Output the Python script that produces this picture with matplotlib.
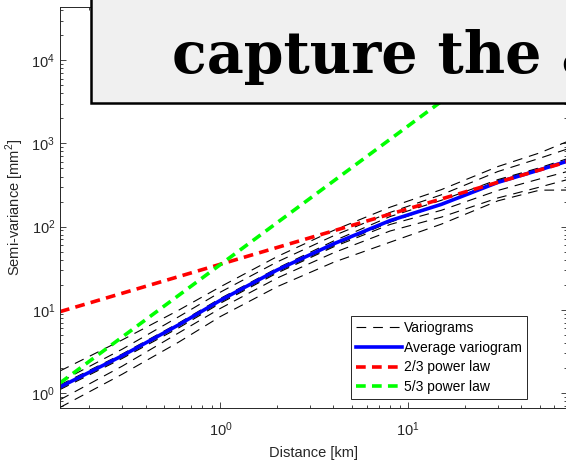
import matplotlib
matplotlib.use('Agg')
import matplotlib.pyplot as plt
from matplotlib.patches import Rectangle
from matplotlib.ticker import LogLocator, NullFormatter

plt.rcParams['font.family'] = ['Liberation Sans', 'DejaVu Sans']
plt.rcParams['mathtext.fontset'] = 'custom'
plt.rcParams['mathtext.rm'] = 'Liberation Sans'
plt.rcParams['lines.scale_dashes'] = False

# distances [km] the variograms are read at
dist = [0.14, 0.3, 0.6, 1, 2, 4, 8, 15, 30, 50, 70]

# single variograms [mm^2]
vario1 = [1.84, 4.34, 9.9, 18.9, 43.5, 89.9, 171, 278, 527, 768, 1049]
vario2 = [1.36, 3.36, 8.25, 16.3, 37.5, 77.5, 148, 241, 459, 662, 854]
vario3 = [1.25, 2.94, 6.93, 13.7, 31.5, 67, 132, 207, 367, 509, 653]
vario4 = [1.2, 2.8, 6.6, 13, 29.4, 60.1, 114, 185, 357, 499, 622]
vario5 = [1.14, 2.69, 6.34, 12.4, 28.5, 58.9, 113, 185, 340, 480, 598]
vario6 = [1.1, 2.6, 6.07, 12, 27.6, 57, 106, 157, 272, 374, 458]
vario7 = [0.83, 2.1, 5.28, 10.4, 24, 48.4, 88.5, 130, 221, 298, 366]
vario8 = [0.67, 1.68, 4.09, 8.3, 18.9, 37.2, 64.9, 107, 204, 274, 275]
variograms = [vario1, vario2, vario3, vario4, vario5, vario6, vario7, vario8]

avg_vario = [1.18, 2.8, 6.6, 13, 30, 62, 118, 185, 340, 480, 610]

# power laws (straight in log-log, end points only)
law_dist = [0.14, 70]
law_23 = [9.5, 600]
law_53 = [1.32, 41600]

fig = plt.figure(figsize=(5.66, 4.61), dpi=100)
W, H = 566.0, 461.0
ax = fig.add_axes([60 / W, (H - 408) / H, 507 / W, 401 / H])

axcol = '#262626'
for i, v in enumerate(variograms):
    ax.plot(dist, v, color='black', lw=0.8, dashes=(7, 5),
            label='Variograms' if i == 0 else None)
ax.plot(dist, avg_vario, color='#0000ff', lw=2.6, label='Average variogram')
ax.plot(law_dist, law_23, color='#ff0000', lw=2.6, dashes=(7, 4.5), label='2/3 power law')
ax.plot(law_dist, law_53, color='#00ff00', lw=2.6, dashes=(7, 4.5), label='5/3 power law')

ax.set_xscale('log')
ax.set_yscale('log')
ax.set_xlim(0.14, 70)
ax.set_ylim(0.66, 43600)

ax.xaxis.set_major_locator(LogLocator(base=10, numticks=10))
ax.yaxis.set_major_locator(LogLocator(base=10, numticks=10))
ax.xaxis.set_minor_locator(LogLocator(base=10, subs=range(2, 10), numticks=20))
ax.yaxis.set_minor_locator(LogLocator(base=10, subs=range(2, 10), numticks=20))
ax.xaxis.set_minor_formatter(NullFormatter())
ax.yaxis.set_minor_formatter(NullFormatter())

ax.tick_params(which='both', direction='in', top=True, right=True, colors=axcol,
               labelsize=10.5, width=0.6)
ax.tick_params(which='major', length=4.5)
ax.tick_params(which='minor', length=2.5)
ax.tick_params(axis='x', which='major', pad=9)
for s in ax.spines.values():
    s.set_color(axcol)
    s.set_linewidth(0.7)

ax.set_xlabel('Distance [km]', fontsize=10.5, color=axcol, labelpad=5)
ax.set_ylabel(r'Semi-variance [mm$^{\mathdefault{2}}$]', fontsize=10.5, color=axcol, labelpad=4)

leg = ax.legend(loc='lower left', bbox_to_anchor=(0.574, 0.022), borderaxespad=0,
                fontsize=10, handlelength=3.3, handletextpad=0.15, labelspacing=0.42,
                borderpad=0.35, fancybox=False, framealpha=1, edgecolor=axcol)
leg.get_frame().set_linewidth(0.7)

# caption box over the top of the figure
fig.patches.append(Rectangle((91 / W, (H - 103) / H), 1.0, 0.5, transform=fig.transFigure,
                             facecolor='#f0f0f0', edgecolor='black', lw=1.8, zorder=10))
fig.text(172 / W, (H - 73) / H, 'capture the a', fontsize=41, fontweight='bold',
         family='DejaVu Serif', va='baseline', ha='left', zorder=11)

fig.savefig('out.png', dpi=100)
